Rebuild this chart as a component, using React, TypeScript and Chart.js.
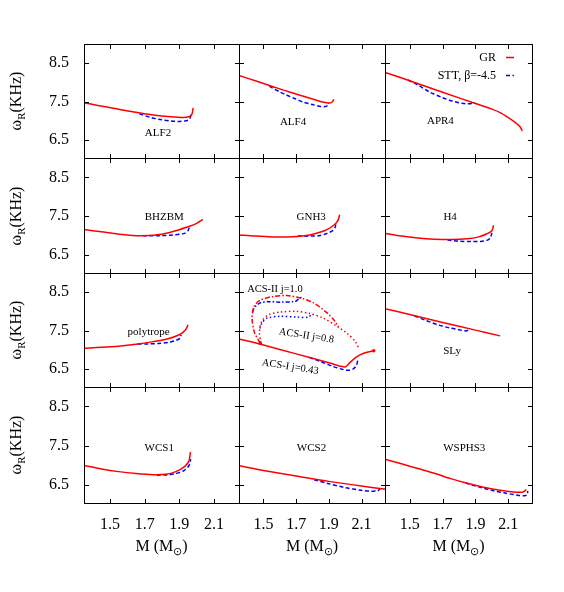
import React, { useEffect, useRef } from "react";
import { Chart, registerables } from "chart.js";

Chart.register(...registerables);

const SERIF = "'Liberation Serif', 'Times New Roman', Times, serif";
const RED = "#ff0000";
const BLUE = "#0000ff";

// ---- axes ----
const X_TICKS = [1.5, 1.7, 1.9, 2.1];
const X_TICK_LABELS = ["1.5", "1.7", "1.9", "2.1"];
const Y_TICKS = [6.5, 7.5, 8.5];
const Y_TICK_LABELS = ["6.5", "7.5", "8.5"];
const M_MIN = 1.35;
const M_MAX = 2.25;
const W_MIN = 6.0;
const W_MAX = 9.0;

// ---- data (M in solar masses, omega_R in kHz) ----
const ALF2_GR_M = [1.35, 1.45, 1.55, 1.65, 1.75, 1.85, 1.92, 1.955, 1.972, 1.98];
const ALF2_GR_W = [7.47, 7.38, 7.30, 7.22, 7.15, 7.10, 7.08, 7.10, 7.16, 7.33];
const ALF2_ST_M = [1.67, 1.73, 1.79, 1.85, 1.90, 1.94, 1.96, 1.968];
const ALF2_ST_W = [7.18, 7.09, 7.03, 6.99, 6.98, 7.00, 7.05, 7.17];

const ALF4_GR_M = [1.35, 1.45, 1.55, 1.65, 1.75, 1.82, 1.87, 1.90, 1.915, 1.925, 1.93];
const ALF4_GR_W = [8.18, 8.04, 7.90, 7.76, 7.63, 7.54, 7.48, 7.46, 7.47, 7.51, 7.56];
const ALF4_ST_M = [1.535, 1.60, 1.64, 1.69, 1.74, 1.80, 1.85, 1.88, 1.895, 1.90];
const ALF4_ST_W = [7.90, 7.75, 7.67, 7.58, 7.49, 7.42, 7.37, 7.37, 7.40, 7.46];

const APR4_GR_M = [1.35, 1.50, 1.70, 1.90, 2.00, 2.05, 2.10, 2.14, 2.17, 2.185];
const APR4_GR_W = [8.26, 8.04, 7.74, 7.45, 7.30, 7.21, 7.08, 6.96, 6.85, 6.73];
const APR4_ST_M = [1.49, 1.55, 1.62, 1.70, 1.77, 1.84, 1.90];
const APR4_ST_W = [8.06, 7.93, 7.75, 7.60, 7.50, 7.44, 7.46];

const BHZBM_GR_M = [1.35, 1.45, 1.55, 1.65, 1.75, 1.85, 1.95, 2.00, 2.036];
const BHZBM_GR_W = [7.15, 7.09, 7.03, 6.99, 7.00, 7.08, 7.22, 7.31, 7.41];
const BHZBM_ST_M = [1.69, 1.78, 1.86, 1.93, 1.95, 1.96];
const BHZBM_ST_W = [6.99, 6.99, 7.01, 7.05, 7.12, 7.26];

const GNH3_GR_M = [1.35, 1.45, 1.55, 1.65, 1.75, 1.82, 1.88, 1.93, 1.955, 1.966];
const GNH3_GR_W = [7.01, 6.98, 6.96, 6.96, 6.99, 7.05, 7.13, 7.26, 7.38, 7.53];
const GNH3_ST_M = [1.71, 1.78, 1.84, 1.89, 1.925, 1.94, 1.942];
const GNH3_ST_W = [6.98, 6.98, 6.99, 7.05, 7.13, 7.22, 7.33];

const H4_GR_M = [1.35, 1.45, 1.55, 1.65, 1.75, 1.85, 1.92, 1.97, 2.00, 2.01];
const H4_GR_W = [7.05, 6.98, 6.93, 6.90, 6.89, 6.91, 6.96, 7.04, 7.12, 7.26];
const H4_ST_M = [1.73, 1.80, 1.87, 1.93, 1.97, 1.99, 2.00];
const H4_ST_W = [6.88, 6.85, 6.84, 6.84, 6.87, 6.93, 7.06];

const POLY_GR_M = [1.35, 1.45, 1.55, 1.65, 1.75, 1.83, 1.90, 1.935, 1.95];
const POLY_GR_W = [7.04, 7.06, 7.09, 7.14, 7.21, 7.28, 7.39, 7.51, 7.65];
const POLY_ST_M = [1.66, 1.72, 1.78, 1.84, 1.88, 1.905, 1.91];
const POLY_ST_W = [7.15, 7.15, 7.16, 7.19, 7.24, 7.30, 7.39];

const ACS1_GR_M = [1.35, 1.50, 1.70, 1.90, 2.00, 2.03, 2.07, 2.11, 2.175];
const ACS1_GR_W = [7.28, 7.12, 6.89, 6.66, 6.55, 6.67, 6.81, 6.90, 6.97];
const ACS1_ST_M = [1.78, 1.85, 1.92, 1.98, 2.02, 2.05, 2.07, 2.078];
const ACS1_ST_W = [6.80, 6.69, 6.57, 6.49, 6.46, 6.50, 6.60, 6.76];

const ACS2J10_GR_M = [1.48, 1.445, 1.43, 1.443, 1.48, 1.561, 1.643, 1.725, 1.807, 1.889, 1.93, 1.96];
const ACS2J10_GR_W = [7.17, 7.45, 7.82, 8.13, 8.29, 8.39, 8.41, 8.35, 8.22, 7.96, 7.78, 7.60];
const ACS2J10_ST_M = [1.432, 1.445, 1.48, 1.531, 1.602, 1.694, 1.715, 1.735];
const ACS2J10_ST_W = [7.98, 8.10, 8.22, 8.25, 8.24, 8.26, 8.32, 8.38];

const ACS2J08_GR_M = [1.484, 1.475, 1.49, 1.531, 1.602, 1.704, 1.786, 1.868, 1.95, 2.011, 2.062, 2.085];
const ACS2J08_GR_W = [7.18, 7.47, 7.74, 7.91, 7.98, 8.00, 7.94, 7.82, 7.61, 7.43, 7.21, 7.02];
const ACS2J08_ST_M = [1.478, 1.49, 1.52, 1.602, 1.704, 1.776, 1.797];
const ACS2J08_ST_W = [7.55, 7.69, 7.82, 7.87, 7.85, 7.85, 7.96];

const SLY_GR_M = [1.35, 1.50, 1.70, 1.90, 2.05];
const SLY_GR_W = [8.07, 7.92, 7.71, 7.51, 7.36];
const SLY_ST_M = [1.53, 1.60, 1.67, 1.74, 1.80, 1.84, 1.867];
const SLY_ST_W = [7.88, 7.76, 7.65, 7.57, 7.52, 7.49, 7.52];

const WCS1_GR_M = [1.35, 1.45, 1.55, 1.65, 1.75, 1.82, 1.88, 1.93, 1.955, 1.964];
const WCS1_GR_W = [6.99, 6.90, 6.83, 6.78, 6.75, 6.76, 6.83, 6.96, 7.10, 7.33];
const WCS1_ST_M = [1.77, 1.83, 1.88, 1.92, 1.95, 1.962, 1.965];
const WCS1_ST_W = [6.74, 6.745, 6.78, 6.84, 6.95, 7.05, 7.15];

const WCS2_GR_M = [1.35, 1.50, 1.70, 1.90, 2.10, 2.25];
const WCS2_GR_W = [6.98, 6.86, 6.72, 6.58, 6.46, 6.38];
const WCS2_ST_M = [1.81, 1.90, 2.00, 2.10, 2.16, 2.20, 2.215];
const WCS2_ST_W = [6.62, 6.52, 6.42, 6.35, 6.33, 6.34, 6.40];

const WSPHS3_GR_M = [1.35, 1.45, 1.55, 1.65, 1.75, 1.85, 1.95, 2.05, 2.13, 2.19, 2.21];
const WSPHS3_GR_W = [7.15, 7.03, 6.91, 6.79, 6.65, 6.53, 6.43, 6.35, 6.31, 6.31, 6.37];
const WSPHS3_ST_M = [1.84, 1.92, 2.00, 2.08, 2.15, 2.20, 2.215, 2.218];
const WSPHS3_ST_W = [6.54, 6.44, 6.35, 6.28, 6.23, 6.21, 6.24, 6.33];

// ---- panel labels ----
const PANEL_NAMES = ["ALF2", "ALF4", "APR4", "BHZBM", "GNH3", "H4", "polytrope", "", "SLy", "WCS1", "WCS2", "WSPHS3"];
const PANEL_LABEL_M = [1.777, 1.681, 1.687, 1.813, 1.792, 1.746, 1.723, 0, 1.758, 1.784, 1.794, 1.832];
const PANEL_LABEL_W = [6.67, 6.97, 6.98, 7.47, 7.46, 7.48, 7.47, 0, 6.97, 7.44, 7.44, 7.44];
const ACS_LABELS = ["ACS-II j=1.0", "ACS-II j=0.8", "ACS-I j=0.43"];
const ACS_LABEL_M = [1.57, 1.763, 1.664];
const ACS_LABEL_W = [8.58, 7.36, 6.55];
const ACS_LABEL_ROT = [0, 9, 9];

const LEGEND_GR = "GR";
const LEGEND_STT = "STT, β=-4.5";

// ---- styles ----
const SOLID: number[] = [];
const DASHED = [4, 2.5];
const DASHDOT_R = [5, 2, 1.5, 2];
const DASHDOT_B = [4, 2, 1.5, 2];
const DOTTED = [1.5, 2.5];

type Curve = { m: number[]; w: number[]; color: string; dash: number[]; label?: string; dots?: number[] };
type Label = { text: string; m: number; w: number; rot: number; size: number };

function pair(gm: number[], gw: number[], sm: number[], sw: number[], legend = false): Curve[] {
  return [
    { m: gm, w: gw, color: RED, dash: SOLID, label: legend ? LEGEND_GR : undefined },
    { m: sm, w: sw, color: BLUE, dash: DASHED, label: legend ? LEGEND_STT : undefined },
  ];
}

const CURVES: Curve[][] = [
  pair(ALF2_GR_M, ALF2_GR_W, ALF2_ST_M, ALF2_ST_W),
  pair(ALF4_GR_M, ALF4_GR_W, ALF4_ST_M, ALF4_ST_W),
  pair(APR4_GR_M, APR4_GR_W, APR4_ST_M, APR4_ST_W, true),
  pair(BHZBM_GR_M, BHZBM_GR_W, BHZBM_ST_M, BHZBM_ST_W),
  pair(GNH3_GR_M, GNH3_GR_W, GNH3_ST_M, GNH3_ST_W),
  pair(H4_GR_M, H4_GR_W, H4_ST_M, H4_ST_W),
  pair(POLY_GR_M, POLY_GR_W, POLY_ST_M, POLY_ST_W),
  [
    { m: ACS1_GR_M, w: ACS1_GR_W, color: RED, dash: SOLID, dots: [ACS1_GR_M.length - 1] },
    { m: ACS1_ST_M, w: ACS1_ST_W, color: BLUE, dash: DASHED },
    { m: ACS2J10_GR_M, w: ACS2J10_GR_W, color: RED, dash: DASHDOT_R, dots: [0] },
    { m: ACS2J10_ST_M, w: ACS2J10_ST_W, color: BLUE, dash: DASHDOT_B },
    { m: ACS2J08_GR_M, w: ACS2J08_GR_W, color: RED, dash: DOTTED },
    { m: ACS2J08_ST_M, w: ACS2J08_ST_W, color: BLUE, dash: DOTTED },
  ],
  pair(SLY_GR_M, SLY_GR_W, SLY_ST_M, SLY_ST_W),
  pair(WCS1_GR_M, WCS1_GR_W, WCS1_ST_M, WCS1_ST_W),
  pair(WCS2_GR_M, WCS2_GR_W, WCS2_ST_M, WCS2_ST_W),
  pair(WSPHS3_GR_M, WSPHS3_GR_W, WSPHS3_ST_M, WSPHS3_ST_W),
];

function labelsFor(idx: number): Label[] {
  if (idx === 7) {
    return ACS_LABELS.map((t, i) => ({ text: t, m: ACS_LABEL_M[i], w: ACS_LABEL_W[i], rot: ACS_LABEL_ROT[i], size: 10.5 }));
  }
  return [{ text: PANEL_NAMES[idx], m: PANEL_LABEL_M[idx], w: PANEL_LABEL_W[idx], rot: 0, size: 11 }];
}

// ---- layout ----
const COL_EDGES = [84, 239, 385, 532];
const ROW_EDGES = [44, 158, 273, 387, 503];
const TICK_LEN = 5;
const BOTTOM_PAD = 36;

function Panel({ idx }: { idx: number }) {
  const ref = useRef<HTMLCanvasElement | null>(null);
  const row = Math.floor(idx / 3);
  const col = idx % 3;
  const L = COL_EDGES[col];
  const R = COL_EDGES[col + 1];
  const T = ROW_EDGES[row];
  const B = ROW_EDGES[row + 1];
  const padL = col === 0 ? L : 0;
  const padB = row === 3 ? BOTTOM_PAD : 0;
  const width = R - L + 1 + padL;
  const height = B - T + 1 + padB;
  const left = col === 0 ? 0 : L;

  useEffect(() => {
    const curves = CURVES[idx];
    const labels = labelsFor(idx);
    const deco = {
      id: "deco" + idx,
      afterDraw(chart: any) {
        const ctx = chart.ctx;
        const a = chart.chartArea;
        const xs = chart.scales.x;
        const ys = chart.scales.y;
        ctx.save();
        ctx.strokeStyle = "#000";
        ctx.lineWidth = 1;
        ctx.setLineDash([]);
        ctx.strokeRect(a.left + 0.5, a.top + 0.5, a.right - a.left - 1, a.bottom - a.top - 1);
        ctx.beginPath();
        for (const v of X_TICKS) {
          const px = Math.round(xs.getPixelForValue(v)) + 0.5;
          ctx.moveTo(px, a.top);
          ctx.lineTo(px, a.top + TICK_LEN);
          ctx.moveTo(px, a.bottom);
          ctx.lineTo(px, a.bottom - TICK_LEN);
        }
        for (const v of Y_TICKS) {
          const py = Math.round(ys.getPixelForValue(v)) + 0.5;
          ctx.moveTo(a.left, py);
          ctx.lineTo(a.left + TICK_LEN, py);
          ctx.moveTo(a.right, py);
          ctx.lineTo(a.right - TICK_LEN, py);
        }
        ctx.stroke();

        ctx.fillStyle = "#000";
        ctx.textAlign = "center";
        ctx.textBaseline = "middle";
        for (const lb of labels) {
          ctx.save();
          ctx.font = `${lb.size}px ${SERIF}`;
          ctx.translate(xs.getPixelForValue(lb.m), ys.getPixelForValue(lb.w));
          ctx.rotate((lb.rot * Math.PI) / 180);
          ctx.fillText(lb.text, 0, 0);
          ctx.restore();
        }

        // in-plot key
        let k = 0;
        chart.data.datasets.forEach((ds: any) => {
          if (!ds.label) return;
          const y = a.top + 13.5 + k * 18;
          ctx.font = `12px ${SERIF}`;
          ctx.textAlign = "right";
          ctx.fillStyle = "#000";
          ctx.fillText(ds.label, a.right - 37, y);
          ctx.strokeStyle = ds.borderColor;
          ctx.lineWidth = 1.5;
          ctx.setLineDash(ds.borderDash || []);
          ctx.beginPath();
          ctx.moveTo(a.right - 27, y);
          ctx.lineTo(a.right - 19, y);
          ctx.stroke();
          ctx.setLineDash([]);
          k++;
        });
        ctx.restore();
      },
    };

    const chart = new Chart(ref.current as HTMLCanvasElement, {
      type: "scatter",
      data: {
        datasets: curves.map((c) => ({
          label: c.label,
          data: c.m.map((m, i) => ({ x: m, y: c.w[i] })),
          showLine: true,
          borderColor: c.color,
          backgroundColor: c.color,
          borderWidth: 1.5,
          borderDash: c.dash,
          pointRadius: c.m.map((_, i) => (c.dots && c.dots.includes(i) ? 1.8 : 0)),
          pointBorderWidth: 0,
          pointHoverRadius: 0,
          tension: 0.3,
          fill: false,
        })),
      },
      options: {
        responsive: false,
        animation: false,
        devicePixelRatio: 1,
        events: [],
        layout: { padding: 0, autoPadding: false },
        plugins: { legend: { display: false }, tooltip: { enabled: false } },
        scales: {
          x: {
            type: "linear",
            min: M_MIN,
            max: M_MAX,
            display: row === 3,
            afterBuildTicks: (s: any) => {
              s.ticks = X_TICKS.map((v) => ({ value: v }));
            },
            afterFit: (s: any) => {
              s.height = padB;
              s.paddingLeft = 0;
              s.paddingRight = 0;
            },
            grid: { display: false, drawTicks: true, tickLength: 11 },
            border: { display: false },
            ticks: {
              padding: 0,
              color: "#000",
              autoSkip: false,
              maxRotation: 0,
              font: { family: SERIF, size: 16 },
              callback: (v: any) => X_TICK_LABELS[X_TICKS.indexOf(Number(v))],
            },
          },
          y: {
            type: "linear",
            min: W_MIN,
            max: W_MAX,
            display: col === 0,
            afterBuildTicks: (s: any) => {
              s.ticks = Y_TICKS.map((v) => ({ value: v }));
            },
            afterFit: (s: any) => {
              s.width = padL;
              s.paddingTop = 0;
              s.paddingBottom = 0;
            },
            grid: { display: false, drawTicks: true, tickLength: 15 },
            border: { display: false },
            ticks: {
              padding: 0,
              color: "#000",
              autoSkip: false,
              font: { family: SERIF, size: 16 },
              callback: (v: any) => Y_TICK_LABELS[Y_TICKS.indexOf(Number(v))],
            },
          },
        },
      } as any,
      plugins: [deco],
    });
    return () => chart.destroy();
  }, []);

  return (
    <canvas
      ref={ref}
      width={width}
      height={height}
      style={{ position: "absolute", left, top: T, width, height, display: "block" }}
    />
  );
}

export default function App() {
  const font = `16px ${SERIF}`;
  return (
    <div style={{ position: "absolute", left: 0, top: 0, width: 564, height: 592, background: "#fff", overflow: "hidden" }}>
      {CURVES.map((_, i) => (
        <Panel key={i} idx={i} />
      ))}
      {[0, 1, 2, 3].map((r) => (
        <div
          key={"yt" + r}
          style={{
            position: "absolute",
            left: 16,
            top: (ROW_EDGES[r] + ROW_EDGES[r + 1]) / 2,
            transform: "translate(-50%, -50%) rotate(-90deg)",
            whiteSpace: "nowrap",
            font,
            lineHeight: "16px",
            color: "#000",
          }}
        >
          ω<span style={{ fontSize: 11, position: "relative", top: 4 }}>R</span>(KHz)
        </div>
      ))}
      {[0, 1, 2].map((c) => (
        <div
          key={"xt" + c}
          style={{
            position: "absolute",
            left: (COL_EDGES[c] + COL_EDGES[c + 1]) / 2,
            top: 538,
            transform: "translateX(-50%)",
            whiteSpace: "nowrap",
            font,
            lineHeight: "16px",
            color: "#000",
          }}
        >
          M (M<span style={{ fontSize: 11, position: "relative", top: 4 }}>⊙</span>)
        </div>
      ))}
    </div>
  );
}
